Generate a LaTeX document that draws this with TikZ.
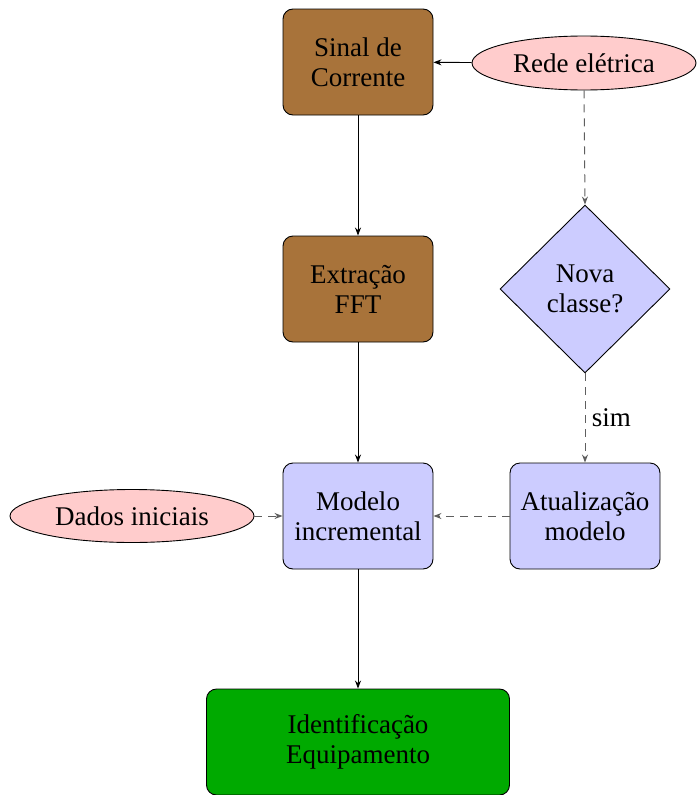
\documentclass[tikz,border=0pt]{standalone}
\usepackage{fontspec}
\setmainfont{Liberation Serif}
\usetikzlibrary{shapes.geometric,arrows.meta}
\definecolor{brownbox}{RGB}{168,115,58}
\definecolor{pinkbox}{RGB}{255,204,204}
\definecolor{bluebox}{RGB}{204,204,255}
\definecolor{greenbox}{RGB}{0,170,0}
\definecolor{dashgray}{RGB}{95,95,95}
\tikzset{
  every node/.style={font=\fontsize{27}{30}\selectfont, align=center, line width=0.9pt},
  procbox/.style={draw, rounded corners=10pt, minimum width=150pt, minimum height=106pt, inner sep=0pt},
  oval/.style={draw, ellipse, fill=pinkbox, inner sep=0pt},
  decision/.style={draw, diamond, fill=bluebox, minimum width=170pt, minimum height=168pt, inner sep=0pt, aspect=1},
  solidarrow/.style={draw=black, line width=0.9pt, -{Stealth[length=8pt,width=6pt]}},
  dasharrow/.style={draw=dashgray, line width=1pt, dash pattern=on 8pt off 6pt, -{Stealth[length=8pt,width=6pt]}}
}
\begin{document}
\begin{tikzpicture}[x=1pt,y=-1pt]
\useasboundingbox (0,0) rectangle (696,795);
\node[procbox, fill=brownbox] (sinal) at (358,62) {Sinal de\\Corrente};
\node[oval, minimum width=224pt, minimum height=54pt] (rede) at (584,63) {Rede elétrica};
\node[procbox, fill=brownbox] (fft) at (358,289) {Extração\\FFT};
\node[decision] (nova) at (585,289) {Nova\\classe?};
\node[procbox, fill=bluebox] (modelo) at (358,516) {Modelo\\incremental};
\node[procbox, fill=bluebox] (atual) at (585,516) {Atualização\\modelo};
\node[oval, minimum width=244pt, minimum height=53pt] (dados) at (132,516) {Dados iniciais};
\node[procbox, fill=greenbox, minimum width=303pt] (ident) at (358,742) {Identificação\\Equipamento};
\draw[solidarrow] (rede) -- (sinal);
\draw[solidarrow] (sinal) -- (fft);
\draw[solidarrow] (fft) -- (modelo);
\draw[solidarrow] (modelo) -- (ident);
\draw[dasharrow] (rede.south) -- (nova.north);
\draw[dasharrow] (nova.south) -- node[right, text=black, xshift=3pt] (simlbl) {sim} (atual.north);
\draw[dasharrow] (atual) -- (modelo);
\draw[dasharrow] (dados) -- (modelo);
\end{tikzpicture}
\end{document}
